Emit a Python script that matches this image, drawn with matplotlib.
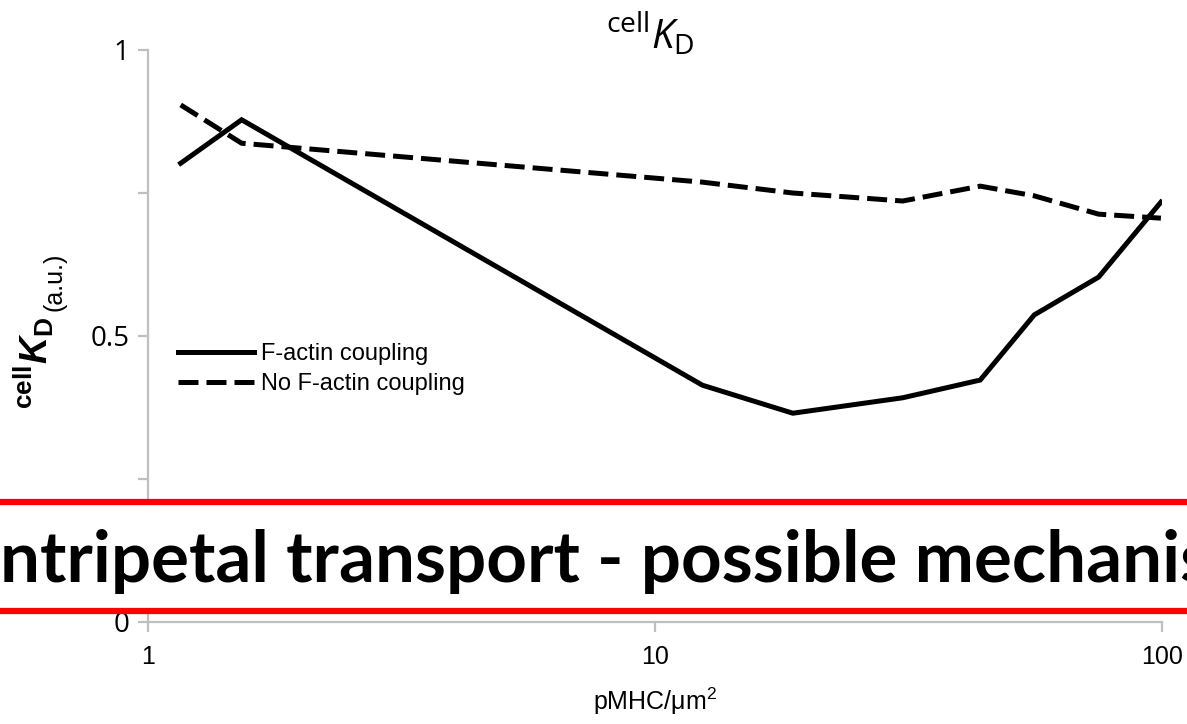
import matplotlib

matplotlib.use("Agg")
import matplotlib.pyplot as plt
from matplotlib.lines import Line2D
from matplotlib.patches import Rectangle
from matplotlib.ticker import FixedLocator, NullLocator

# values
pmhc_density = [1.16, 1.53, 12.4, 18.7, 30.8, 43.8, 56.0, 75.0, 99.5]
kd_f_actin = [0.802, 0.878, 0.414, 0.365, 0.392, 0.423, 0.537, 0.603, 0.734]
kd_no_f_actin = [0.904, 0.837, 0.769, 0.750, 0.736, 0.762, 0.745, 0.713, 0.706]
series_labels = ["F-actin coupling", "No F-actin coupling"]
x_ticks = [1, 10, 100]
x_tick_labels = ["1", "10", "100"]
y_ticks = [0, 0.5, 1]
y_tick_labels = ["0", "0.5", "1"]
y_minor_ticks = [0.25, 0.75]
banner_text = "ntripetal transport - possible mechanis"

plt.rcParams["font.family"] = ["Liberation Sans", "DejaVu Sans"]
plt.rcParams["mathtext.fontset"] = "custom"
plt.rcParams["mathtext.rm"] = "Open Sans"
plt.rcParams["mathtext.it"] = "Open Sans:italic"
plt.rcParams["mathtext.bf"] = "Liberation Sans:bold"
plt.rcParams["mathtext.bfit"] = "Liberation Sans:bold:italic"

W, H = 1187, 724
fig = plt.figure(figsize=(W / 100, H / 100), dpi=100)
ax = fig.add_axes([148 / W, 1 - 622 / H, (1162 - 148) / W, (622 - 50) / H])

gray = "#BFBFBF"
ax.plot(pmhc_density, kd_f_actin, color="black", lw=3.6,
        solid_joinstyle="miter", label=series_labels[0])
ax.plot(pmhc_density, kd_no_f_actin, color="black", lw=3.6,
        linestyle=(0, (4, 1.6)), label=series_labels[1])

ax.set_xscale("log")
ax.set_xlim(1, 100)
ax.set_ylim(0, 1)
ax.xaxis.set_major_locator(FixedLocator(x_ticks))
ax.xaxis.set_minor_locator(NullLocator())
ax.set_xticklabels(x_tick_labels, fontsize=18)
ax.set_yticks(y_ticks)
ax.set_yticklabels(y_tick_labels, fontsize=20,
                   family=["Open Sans", "DejaVu Sans"])
ax.set_yticks(y_minor_ticks, minor=True)

for side in ["top", "right"]:
    ax.spines[side].set_visible(False)
for side in ["left", "bottom"]:
    ax.spines[side].set_color(gray)
    ax.spines[side].set_linewidth(1.6)

ax.tick_params(axis="both", which="both", direction="out", length=7.5,
               width=1.6, color=gray)
ax.tick_params(axis="y", which="major", pad=6)
ax.tick_params(axis="x", which="major", pad=9)

ax.set_xlabel(r"pMHC/μm$\mathregular{^2}$", fontsize=18, labelpad=12)

fig.text(650 / W, 1 - 48 / H, r"$^{\mathrm{cell}}\mathit{K}_{\mathrm{D}}$",
         fontsize=29, ha="center", va="baseline")

# y axis label: bold cell-K-D plus the unit in a smaller regular font
fig.text(34 / W, 1 - 363 / H, r"$^{\mathbf{cell}}\mathbfit{K}_{\mathbf{D}}$",
         fontsize=27, rotation=90, ha="center", va="center")
fig.text(54 / W, 1 - 282 / H, "(a.u.)",
         fontsize=18, rotation=90, ha="center", va="center")

ax.legend(loc="upper left", bbox_to_anchor=(0.0296, 0.488), frameon=False,
          fontsize=17, handlelength=3.2, handletextpad=0.3,
          borderpad=0, borderaxespad=0, labelspacing=0.35)

# title-slide banner overlaid across the lower part of the chart
y_top = 1 - 502 / H
y_bot = 1 - 611 / H
fig.add_artist(Rectangle((0, y_bot), 1, y_top - y_bot, transform=fig.transFigure,
                         facecolor="white", edgecolor="none", zorder=10))
for yy in (y_top, y_bot):
    fig.add_artist(Line2D([0, 1], [yy, yy], transform=fig.transFigure,
                          color="#FF0000", lw=4.5, zorder=11))
fig.text(0 / W, 1 - 582 / H, banner_text, fontsize=51, fontweight="bold",
         family=["Lato", "DejaVu Sans"], ha="left", va="baseline", zorder=12)

fig.savefig("out.png", dpi=100)
